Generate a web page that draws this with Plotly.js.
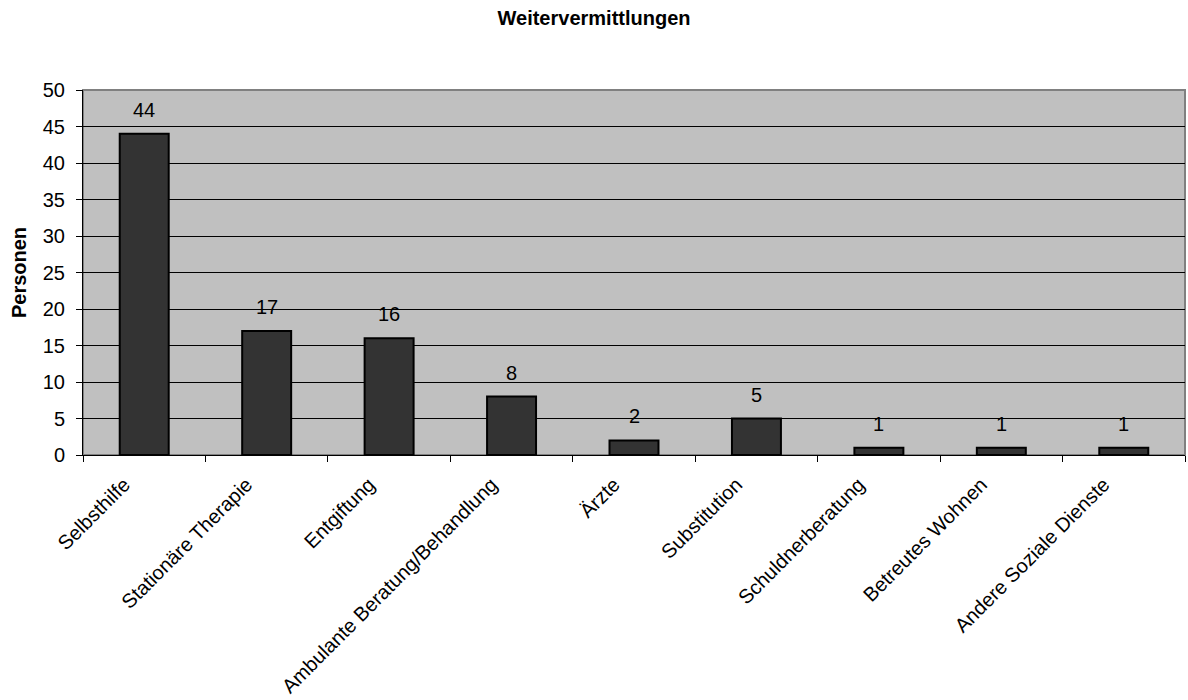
<!DOCTYPE html>
<html>
<head>
<meta charset="utf-8">
<script src="https://cdn.plot.ly/plotly-3.0.1.min.js"></script>
<style>
  html, body { margin: 0; padding: 0; background: #ffffff; }
  #chart { width: 1188px; height: 700px; }
</style>
</head>
<body>
<div id="chart"></div>
<script>
// Weitervermittlungen nach Einrichtung
const categories = [
  'Selbsthilfe',
  'Stationäre Therapie',
  'Entgiftung',
  'Ambulante Beratung/Behandlung',
  'Ärzte',
  'Substitution',
  'Schuldnerberatung',
  'Betreutes Wohnen',
  'Andere Soziale Dienste'
];
const personen = [44, 17, 16, 8, 2, 5, 1, 1, 1];

const FONT = 'Liberation Sans, Arial, sans-serif';

const trace = {
  type: 'bar',
  x: categories,
  y: personen,
  marker: { color: '#333333', line: { color: '#000000', width: 2 } },
  hoverinfo: 'x+y'
};

// value labels above each bar
const annotations = categories.map((c, i) => ({
  x: c,
  y: personen[i],
  xref: 'x',
  yref: 'y',
  text: String(personen[i]),
  showarrow: false,
  yanchor: 'bottom',
  yshift: 11,
  font: { family: FONT, size: 20, color: '#000000' }
}));

const layout = {
  width: 1188,
  height: 700,
  margin: { l: 83, r: 3, t: 90, b: 245 },
  paper_bgcolor: '#ffffff',
  plot_bgcolor: '#c0c0c0',
  bargap: 0.6,
  showlegend: false,
  title: {
    text: '<b>Weitervermittlungen</b>',
    x: 0.5,
    xanchor: 'center',
    y: 0.974,
    yanchor: 'middle',
    font: { family: FONT, size: 20, color: '#000000' }
  },
  xaxis: {
    type: 'category',
    tickangle: -45,
    tickson: 'boundaries',
    ticks: 'outside',
    ticklen: 6,
    tickcolor: '#000000',
    tickwidth: 1,
    ticklabelstandoff: 9,
    ticklabelshift: -20,
    showline: true,
    linecolor: '#000000',
    linewidth: 1,
    showgrid: false,
    tickfont: { family: FONT, size: 20, color: '#000000' },
    fixedrange: true
  },
  yaxis: {
    range: [0, 50],
    dtick: 5,
    tick0: 0,
    ticks: 'outside',
    ticklen: 6,
    tickcolor: '#000000',
    ticklabelstandoff: 7,
    showline: true,
    linecolor: '#000000',
    linewidth: 1,
    showgrid: true,
    gridcolor: '#000000',
    gridwidth: 1,
    zeroline: false,
    tickfont: { family: FONT, size: 20, color: '#000000' },
    title: {
      text: '<b>Personen</b>',
      standoff: 10,
      font: { family: FONT, size: 20, color: '#000000' }
    },
    fixedrange: true
  },
  shapes: [{
    type: 'rect',
    xref: 'paper', yref: 'paper',
    x0: 0, x1: 1, y0: 0, y1: 1,
    line: { color: '#808080', width: 2 },
    layer: 'below'
  }],
  annotations: annotations
};

Plotly.newPlot('chart', [trace], layout, { displayModeBar: false, staticPlot: true });
</script>
</body>
</html>
